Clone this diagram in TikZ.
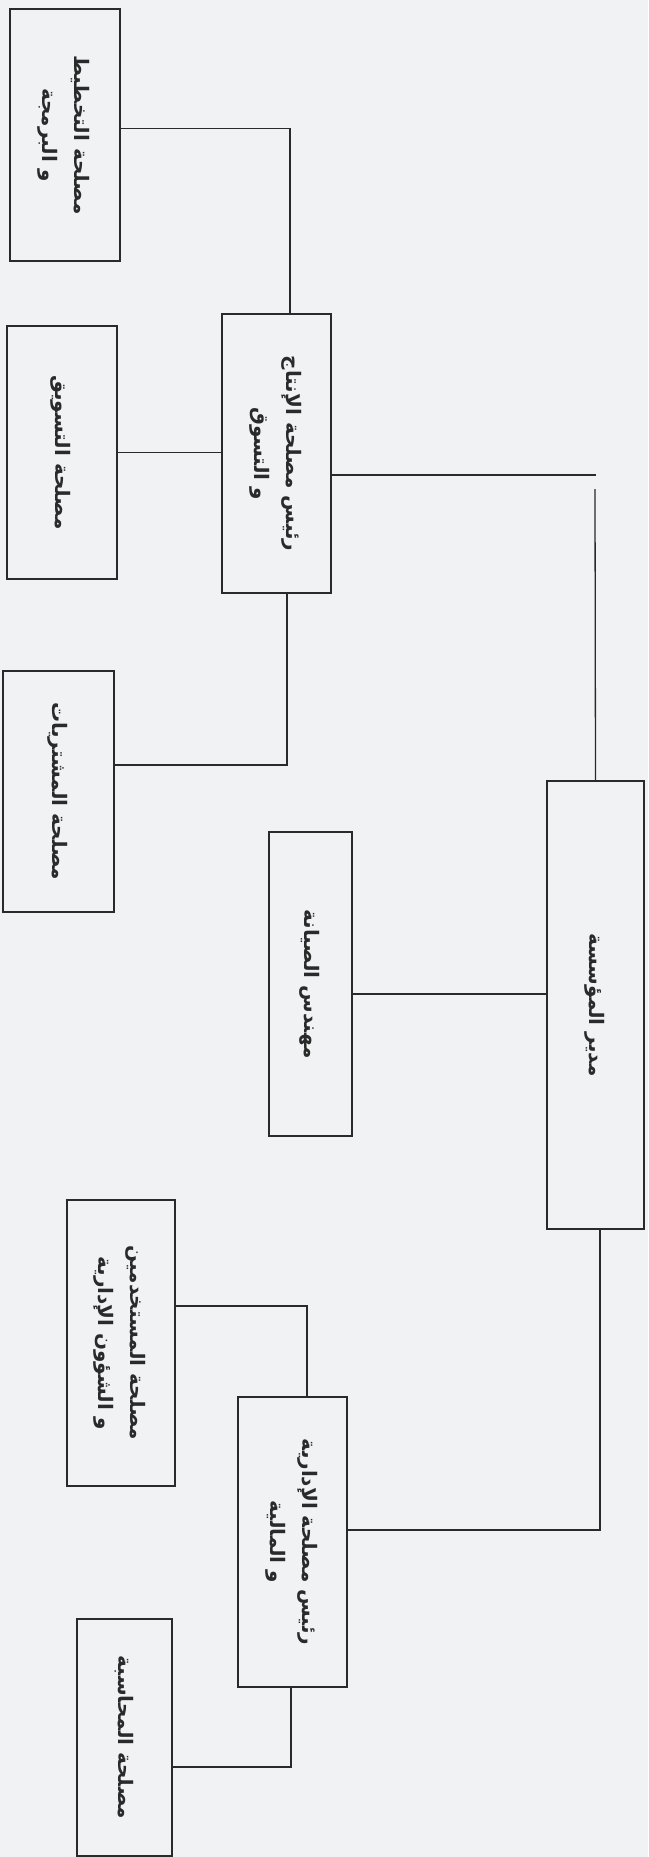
\documentclass[tikz,border=0pt]{standalone}
\usepackage{fontspec}
\usepackage{graphicx}
\usepackage{tikz}
\usetikzlibrary{positioning}
\TeXXeTstate=1
\newfontfamily\arabicfont[Script=Arabic]{DejaVu Sans}
\definecolor{inkgray}{RGB}{42, 42, 42}
\definecolor{paper}{RGB}{240, 242, 244}
\newcommand{\arline}[1]{\beginR #1\endR}
\newcommand{\vlabel}[1]{\rotatebox{-90}{\begin{tabular}{@{}c@{}}#1\end{tabular}}}

\begin{document}
\begin{tikzpicture}[
    x=1pt, y=-1pt,
    box/.style={rectangle, draw=inkgray, line width=1.6pt, inner sep=0pt, text=inkgray, font=\arabicfont\bfseries\fontsize{20}{32}\selectfont},
    link/.style={draw=inkgray, line width=1.3pt}
]
    \fill[paper] (0,0) rectangle (648,1857);
    \useasboundingbox (0,0) rectangle (648,1857);

    % Production branch
    \node[box, minimum width=110pt, minimum height=252pt] (plan) at (65,135) {\vlabel{\arline{مصلحة التخطيط}\\ \arline{و البرمجة}}};
    \node[box, minimum width=110pt, minimum height=253pt] (market) at (62,452.5) {\vlabel{\arline{مصلحة التسويق}}};
    \node[box, minimum width=109pt, minimum height=279pt] (prod) at (276.5,453.5) {\vlabel{\arline{رئيس مصلحة الإنتاج}\\ \arline{و التسوق}}};
    \node[box, minimum width=111pt, minimum height=241pt] (buy) at (58.5,791.5) {\vlabel{\arline{مصلحة المشتريات}}};

    % Director and maintenance
    \node[box, minimum width=83pt, minimum height=304pt] (maint) at (310.5,984) {\vlabel{\arline{مهندس الصيانة}}};
    \node[box, minimum width=97pt, minimum height=448pt] (director) at (595.5,1005) {\vlabel{\arline{مدير المؤسسة}}};

    % Administration branch
    \node[box, minimum width=108pt, minimum height=286pt] (staff) at (121,1343) {\vlabel{\arline{مصلحة المستخدمين}\\ \arline{و الشؤون الإدارية}}};
    \node[box, minimum width=109pt, minimum height=290pt] (admin) at (292.5,1542) {\vlabel{\arline{رئيس مصلحة الإدارية}\\ \arline{و المالية}}};
    \node[box, minimum width=95pt, minimum height=237pt] (account) at (124.5,1737.5) {\vlabel{\arline{مصلحة المحاسبة}}};

    \coordinate (cornerA) at (596,475);
    \coordinate (cornerB) at (595,489);

    % Lines
    \draw[link] ([yshift=6.5pt]plan.east) -| ([xshift=13.5pt]prod.north);
    \draw[link] (market.east) -- (market.east -| prod.west);
    \draw[link] ([xshift=10.5pt]prod.south) |- ([yshift=26.5pt]buy.east);
    \draw[link] ([yshift=-21.5pt]prod.east) -- (cornerA);
    \draw[link] (cornerB) -- (director.north);
    \draw[link] ([yshift=-10pt]maint.east) -- ([yshift=11pt]director.west);
    \draw[link] ([xshift=4.5pt]director.south) |- ([yshift=12pt]admin.east);
    \draw[link] ([yshift=37pt]staff.east) -| ([xshift=14.5pt]admin.north);
    \draw[link] ([xshift=-1.5pt]admin.south) |- ([yshift=-29.5pt]account.east);
\end{tikzpicture}
\end{document}
